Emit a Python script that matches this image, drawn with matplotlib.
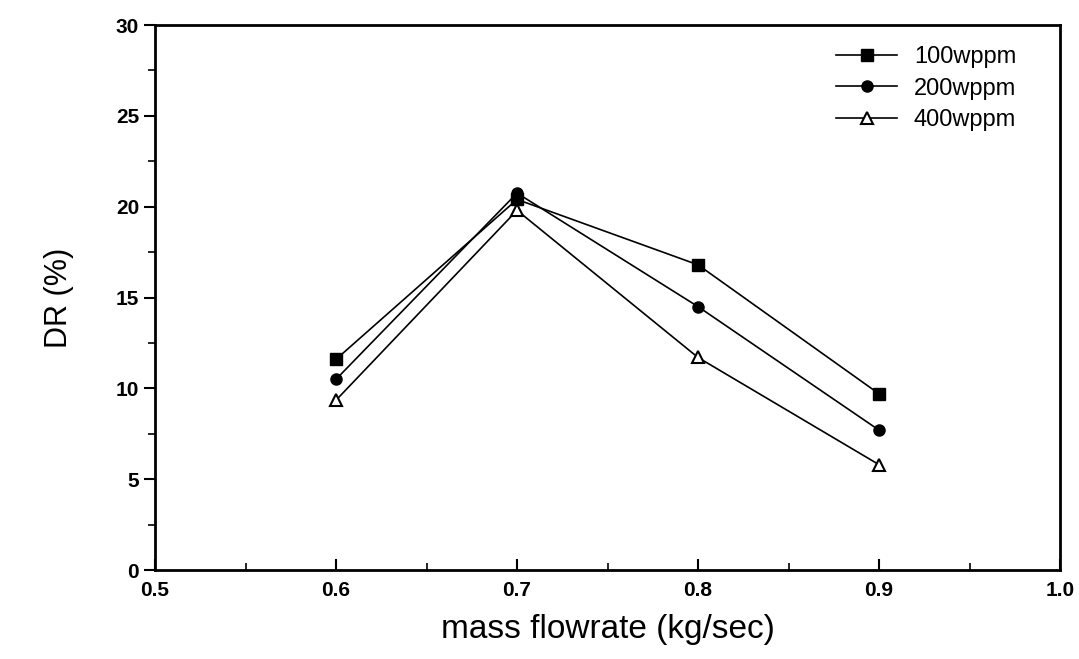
import matplotlib
matplotlib.use("Agg")
import matplotlib.pyplot as plt
from matplotlib.ticker import MultipleLocator

# mass flowrate (kg/sec)
flowrate = [0.6, 0.7, 0.8, 0.9]

# drag reduction (%) for each concentration
dr_100 = [11.6, 20.4, 16.8, 9.7]
dr_200 = [10.5, 20.75, 14.5, 7.7]
dr_400 = [9.35, 19.8, 11.7, 5.8]

plt.rcParams['font.family'] = ['Liberation Sans', 'DejaVu Sans']

fig = plt.figure(figsize=(10.79, 6.59), dpi=100)
ax = fig.add_axes([0.1437, 0.135, 0.8387, 0.827])

ax.plot(flowrate, dr_100, '-s', color='black', lw=1.2, ms=8,
        mfc='black', label='100wppm')
ax.plot(flowrate, dr_200, '-o', color='black', lw=1.2, ms=8,
        mfc='black', label='200wppm')
ax.plot(flowrate, dr_400, '-^', color='black', lw=1.2, ms=8,
        mfc='white', mew=1.5, label='400wppm')

ax.set_xlim(0.5, 1.0)
ax.set_ylim(0, 30)
ax.xaxis.set_major_locator(MultipleLocator(0.1))
ax.xaxis.set_minor_locator(MultipleLocator(0.05))
ax.yaxis.set_major_locator(MultipleLocator(5))
ax.yaxis.set_minor_locator(MultipleLocator(2.5))
ax.xaxis.set_major_formatter(plt.FuncFormatter(lambda v, p: f'{v:.1f}'))

ax.tick_params(axis='x', which='both', direction='in', labelsize=15, pad=8)
ax.tick_params(axis='x', which='major', length=8, width=1.5)
ax.tick_params(axis='x', which='minor', length=5, width=1.2)
ax.tick_params(axis='y', which='both', direction='out', labelsize=15)
ax.tick_params(axis='y', which='major', length=8, width=1.5)
ax.tick_params(axis='y', which='minor', length=5, width=1.2)
for lbl in ax.get_xticklabels() + ax.get_yticklabels():
    lbl.set_fontweight('bold')

for s in ax.spines.values():
    s.set_linewidth(2)

ax.set_xlabel('mass flowrate (kg/sec)', fontsize=24, labelpad=10)
ax.set_ylabel('DR (%)', fontsize=22, labelpad=30)

ax.legend(loc='upper right', frameon=False, fontsize=17,
          bbox_to_anchor=(0.975, 1.0), handlelength=2.6,
          labelspacing=0.4, handletextpad=0.7)

fig.savefig('out.png', dpi=100)
